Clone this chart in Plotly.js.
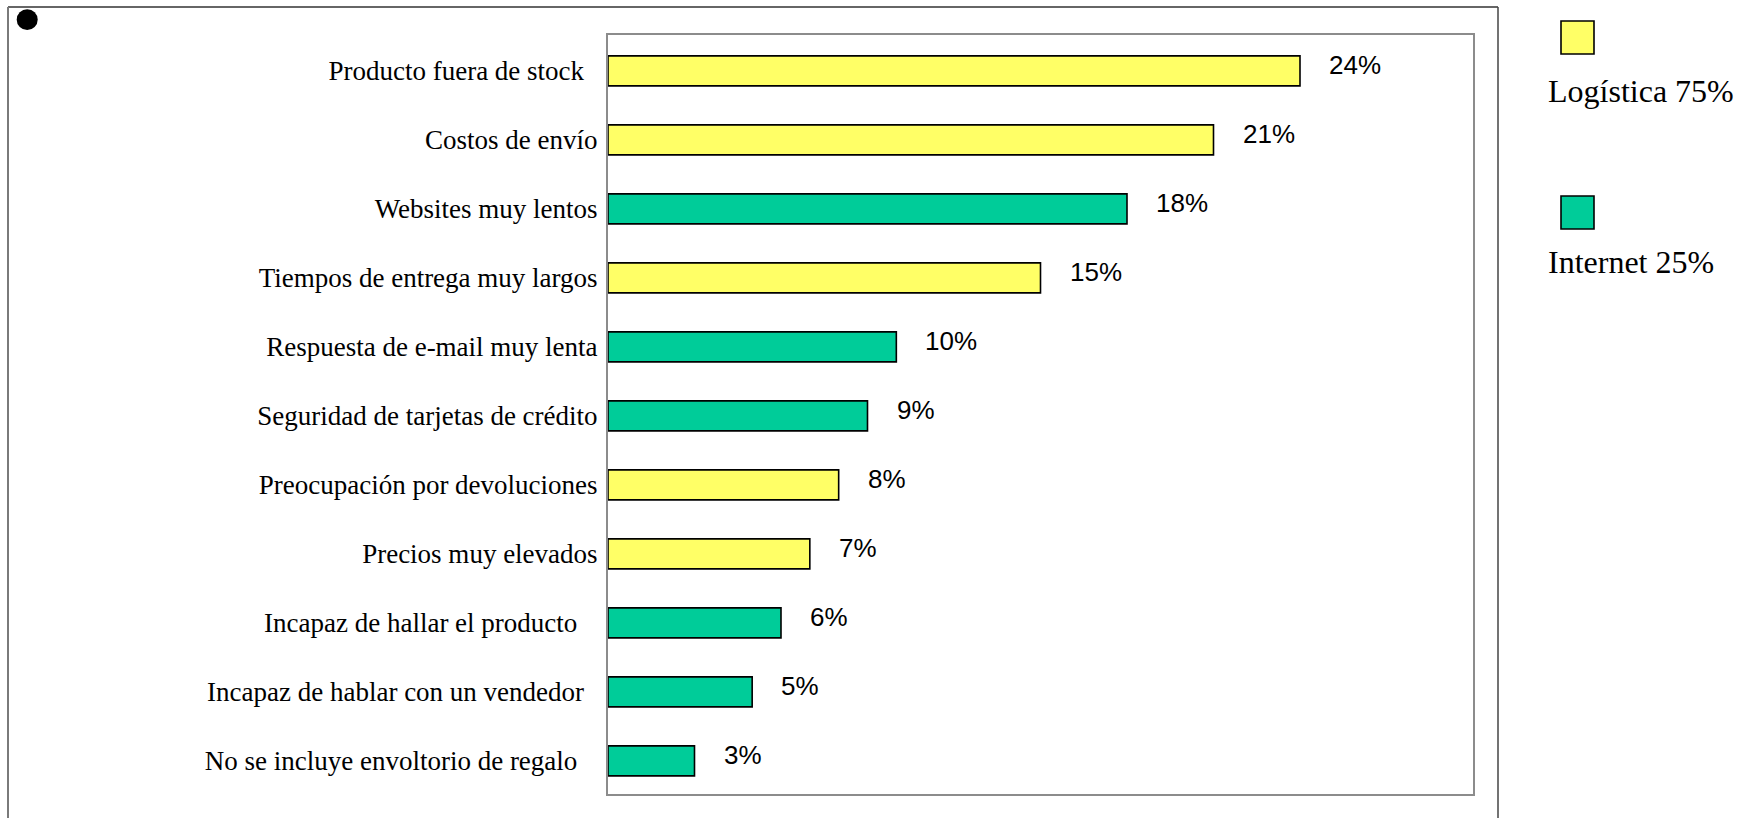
<!DOCTYPE html>
<html>
<head>
<meta charset="utf-8">
<script src="https://cdn.plot.ly/plotly-3.0.1.min.js"></script>
<style>
  html, body { margin: 0; padding: 0; background: #ffffff; }
  #chart { width: 1742px; height: 818px; }
</style>
</head>
<body>
<div id="chart"></div>
<script>
// ---- data ----
const categories = [
  "Producto fuera de stock\u00a0\u00a0",
  "Costos de envío",
  "Websites muy lentos",
  "Tiempos de entrega muy largos",
  "Respuesta de e-mail muy lenta",
  "Seguridad de tarjetas de crédito",
  "Preocupación por devoluciones",
  "Precios muy elevados",
  "Incapaz de hallar el producto\u00a0\u00a0\u00a0",
  "Incapaz de hablar con un vendedor\u00a0\u00a0",
  "No se incluye envoltorio de regalo\u00a0\u00a0\u00a0"
];
const values = [24, 21, 18, 15, 10, 9, 8, 7, 6, 5, 3];
const groups = ["Logística", "Logística", "Internet", "Logística", "Internet",
                "Internet", "Logística", "Logística", "Internet", "Internet", "Internet"];
const legendGroups = ["Logística", "Internet"];
const legendLabels = ["Logística 75%", "Internet 25%"];

// ---- style ----
const groupColors = { "Logística": "#FFFF66", "Internet": "#00CC99" };
const W = 1742, H = 818;
const M = { l: 608, r: 269, t: 35, b: 24 };
const PW = W - M.l - M.r, PH = H - M.t - M.b;
const px = x => (x - M.l) / PW;
const py = y => 1 - (y - M.t) / PH;

const serif = "Liberation Serif, Times New Roman, serif";
const sans = "Liberation Sans, Arial, sans-serif";

const trace = {
  type: "bar",
  orientation: "h",
  x: values,
  y: categories,
  width: 0.435,
  marker: {
    color: groups.map(g => groupColors[g]),
    line: { color: "#000000", width: 1.6 }
  },
  hoverinfo: "none",
  showlegend: false
};

const annotations = values.map((v, i) => ({
  xref: "x", yref: "y", x: v, y: categories[i],
  text: v + "%", showarrow: false,
  xanchor: "left", yanchor: "middle",
  xshift: 27, yshift: 6,
  font: { family: sans, size: 26, color: "#000000" }
}));

// legend (swatch above label)
const legendSwatchY = [21, 196];
const legendTextY = [91, 262];
const shapes = [];
legendGroups.forEach((g, i) => {
  shapes.push({
    type: "rect", xref: "paper", yref: "paper",
    x0: px(1561), x1: px(1594),
    y0: py(legendSwatchY[i]), y1: py(legendSwatchY[i] + 33),
    fillcolor: groupColors[g], line: { color: "#000000", width: 1.6 }
  });
  annotations.push({
    xref: "paper", yref: "paper", x: px(1546), y: py(legendTextY[i]),
    xanchor: "left", yanchor: "middle", showarrow: false,
    text: legendLabels[i],
    font: { family: serif, size: 32, color: "#000000" }
  });
});

// outer frame
shapes.push({ type: "line", xref: "paper", yref: "paper",
  x0: px(8), x1: px(1498), y0: py(7), y1: py(7),
  line: { color: "#333333", width: 1.5 } });
shapes.push({ type: "line", xref: "paper", yref: "paper",
  x0: px(1498), x1: px(1498), y0: py(7), y1: py(830),
  line: { color: "#444444", width: 1.5 } });
shapes.push({ type: "line", xref: "paper", yref: "paper",
  x0: px(8), x1: px(8), y0: py(7), y1: py(830),
  line: { color: "#7a7a7a", width: 2 } });
// bullet dot
shapes.push({ type: "circle", xref: "paper", yref: "paper",
  x0: px(16.7), x1: px(37.7), y0: py(9.3), y1: py(30),
  fillcolor: "#000000", line: { color: "#000000", width: 0 } });

const layout = {
  width: W, height: H,
  margin: M,
  paper_bgcolor: "#ffffff",
  plot_bgcolor: "#ffffff",
  showlegend: false,
  xaxis: {
    range: [0, 30],
    showgrid: false, zeroline: false,
    showticklabels: false, ticks: "",
    showline: true, mirror: true,
    linecolor: "#8c8c8c", linewidth: 2
  },
  yaxis: {
    type: "category",
    range: [10.48, -0.52],
    showgrid: false, zeroline: false,
    ticks: "", ticklabelstandoff: 3,
    showline: true, mirror: true,
    linecolor: "#8c8c8c", linewidth: 2,
    tickfont: { family: serif, size: 27, color: "#000000" }
  },
  shapes: shapes,
  annotations: annotations
};

Plotly.newPlot("chart", [trace], layout, { displayModeBar: false, staticPlot: true });
</script>
</body>
</html>
